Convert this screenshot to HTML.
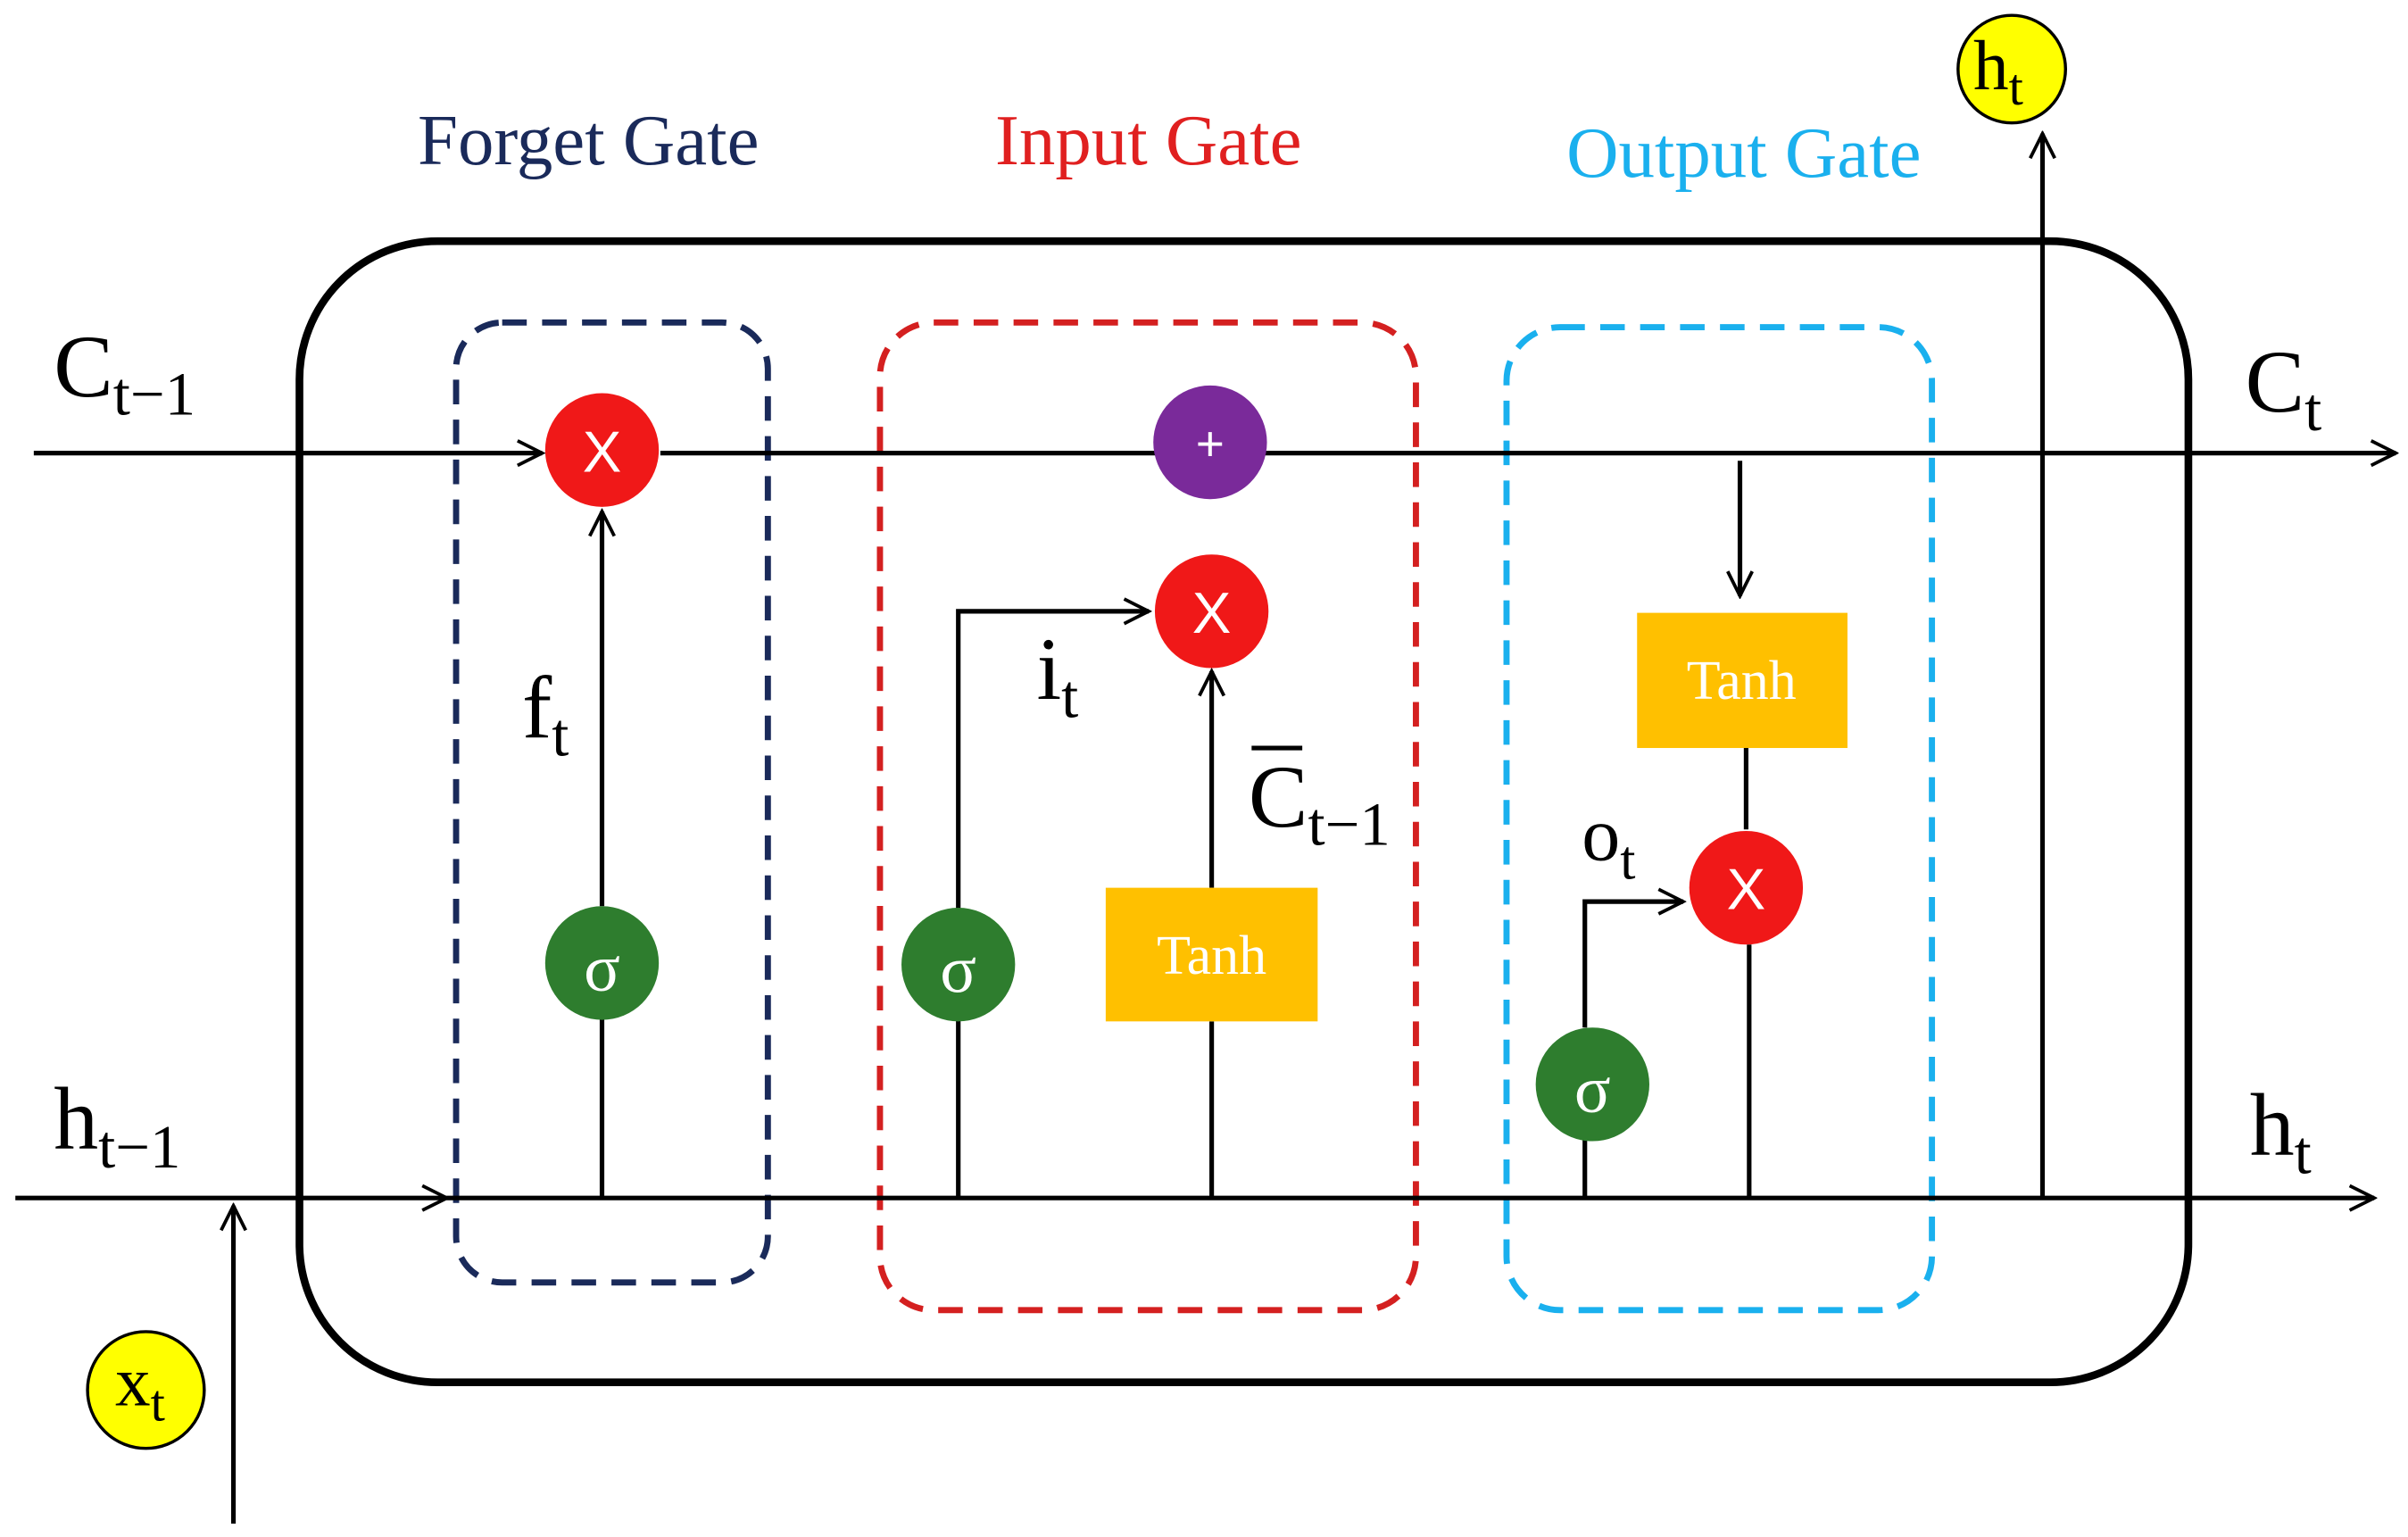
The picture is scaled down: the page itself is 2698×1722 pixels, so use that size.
<!DOCTYPE html>
<html><head><meta charset="utf-8"><style>
html,body{margin:0;padding:0;background:#fff;}
svg{display:block;}
text{font-family:"Liberation Serif",serif;}
</style></head><body>
<svg width="2698" height="1722" viewBox="0 0 1568 1000.7" preserveAspectRatio="none" xmlns="http://www.w3.org/2000/svg">
<defs>
<marker id="a" viewBox="0 0 20 20" refX="18" refY="10" markerWidth="20" markerHeight="20" markerUnits="userSpaceOnUse" orient="auto"><path d="M2,2 L18,10 L2,18" fill="none" stroke="#000" stroke-width="2.2"/></marker>
</defs>
<rect x="195" y="157" width="1230" height="743" rx="90" fill="none" stroke="#000" stroke-width="5"/>
<rect x="297" y="210" width="203" height="625" rx="30" fill="none" stroke="#1a2a5a" stroke-width="4" stroke-dasharray="16,10"/>
<rect x="573" y="210" width="349" height="643" rx="35" fill="none" stroke="#d42020" stroke-width="4" stroke-dasharray="16,10"/>
<rect x="981" y="213" width="277" height="640" rx="35" fill="none" stroke="#1ab0ee" stroke-width="4" stroke-dasharray="16,10"/>
<g stroke="#000" stroke-width="3" fill="none">
<line x1="22" y1="295" x2="353" y2="295" marker-end="url(#a)"/>
<line x1="430" y1="295" x2="1560" y2="295" marker-end="url(#a)"/>
<line x1="10" y1="780" x2="291" y2="780" marker-end="url(#a)"/>
<line x1="291" y1="780" x2="1546" y2="780" marker-end="url(#a)"/>
<line x1="392" y1="780" x2="392" y2="627"/>
<line x1="392" y1="590" x2="392" y2="333" marker-end="url(#a)"/>
<polyline points="624,780 624,398 748,398" marker-end="url(#a)"/>
<line x1="789" y1="780" x2="789" y2="665"/>
<line x1="789" y1="578" x2="789" y2="437" marker-end="url(#a)"/>
<line x1="1133" y1="300" x2="1133" y2="388" marker-end="url(#a)"/>
<line x1="1137" y1="487" x2="1137" y2="540"/>
<line x1="1139" y1="615" x2="1139" y2="780"/>
<line x1="1032" y1="780" x2="1032" y2="706"/>
<polyline points="1032,669 1032,587 1096,587" marker-end="url(#a)"/>
<line x1="1330" y1="780" x2="1330" y2="87" marker-end="url(#a)"/>
<line x1="152" y1="992" x2="152" y2="785" marker-end="url(#a)"/>
</g>
<circle cx="392" cy="293" r="37" fill="#f01818"/>
<circle cx="788" cy="288" r="37" fill="#7a2a9a"/>
<circle cx="789" cy="398" r="37" fill="#f01818"/>
<circle cx="1137" cy="578" r="37" fill="#f01818"/>
<circle cx="392" cy="627" r="37" fill="#2e7d2e"/>
<circle cx="624" cy="628" r="37" fill="#2e7d2e"/>
<circle cx="1037" cy="706" r="37" fill="#2e7d2e"/>
<rect x="720" y="578" width="138" height="87" fill="#ffc000"/>
<rect x="1066" y="399" width="137" height="88" fill="#ffc000"/>
<circle cx="1310" cy="45" r="35" fill="#ffff00" stroke="#000" stroke-width="2"/>
<circle cx="95" cy="905" r="38" fill="#ffff00" stroke="#000" stroke-width="2"/>
<g fill="#fff" font-size="38" text-anchor="middle">
<text x="392" y="307" style="font-family:'Liberation Sans',sans-serif">X</text>
<text x="789" y="412" style="font-family:'Liberation Sans',sans-serif">X</text>
<text x="1137" y="592" style="font-family:'Liberation Sans',sans-serif">X</text>
<text x="788" y="300" font-size="32" style="font-family:'Liberation Sans',sans-serif">+</text>
<text x="392" y="645" font-size="44">σ</text>
<text x="624" y="646" font-size="44">σ</text>
<text x="1037" y="724" font-size="44">σ</text>
<text x="789" y="634" font-size="36">Tanh</text>
<text x="1134" y="455" font-size="36">Tanh</text>
</g>
<text x="272" y="107" font-size="47" fill="#1a2a5a">Forget Gate</text>
<text x="648" y="107" font-size="47" fill="#e02020">Input Gate</text>
<text x="1020" y="115" font-size="47" fill="#1ab0ee">Output Gate</text>
<g fill="#000">
<text x="35" y="258" font-size="58">C<tspan font-size="40" dy="12">t−1</tspan></text>
<text x="1462" y="268" font-size="58">C<tspan font-size="40" dy="12">t</tspan></text>
<text x="35" y="748" font-size="58">h<tspan font-size="40" dy="12">t−1</tspan></text>
<text x="1465" y="752" font-size="58">h<tspan font-size="40" dy="12">t</tspan></text>
<text x="340" y="480" font-size="58">f<tspan font-size="40" dy="12">t</tspan></text>
<text x="675" y="455" font-size="58">i<tspan font-size="40" dy="12">t</tspan></text>
<text x="813" y="538" font-size="58">C<tspan font-size="40" dy="12">t−1</tspan></text>
<line x1="815" y1="487" x2="848" y2="487" stroke="#000" stroke-width="3"/>
<text x="1030" y="560" font-size="50">o<tspan font-size="36" dy="12">t</tspan></text>
<text x="1285" y="58" font-size="46">h<tspan font-size="34" dy="10">t</tspan></text>
<text x="75" y="915" font-size="46">x<tspan font-size="34" dy="10">t</tspan></text>
</g>
</svg>
</body></html>
